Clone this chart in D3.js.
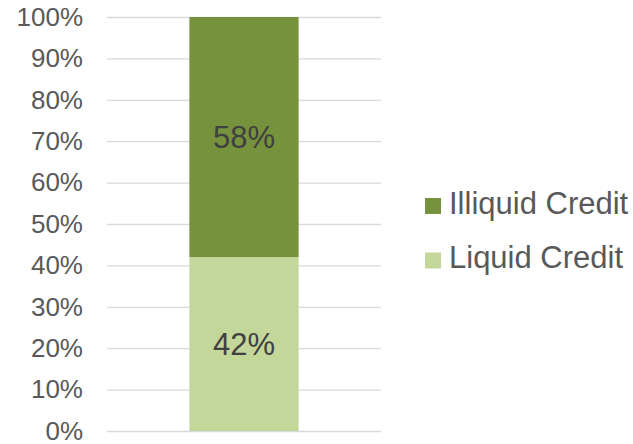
<!DOCTYPE html>
<html>
<head>
<meta charset="utf-8">
<script src="https://cdn.jsdelivr.net/npm/d3@7"></script>
<style>
  html, body { margin: 0; padding: 0; background: #fff; }
  svg { display: block; font-family: "Liberation Sans", Arial, sans-serif; }
</style>
</head>
<body>
<svg id="chart" width="633" height="444"></svg>
<script>
// ── data ──
var categories = ['Credit'];
var seriesNames = ['Liquid Credit', 'Illiquid Credit'];
var liquidValues = [42];
var illiquidValues = [58];
var tickValues = [0, 10, 20, 30, 40, 50, 60, 70, 80, 90, 100];
var seriesColors = ['#c4d79b', '#77923c'];

(function () {
  'use strict';

  var svg = d3.select('#chart');
  var margin = { top: 17, right: 252, bottom: 13, left: 107 };
  var W = 633, H = 444;
  var plotW = W - margin.left - margin.right;
  var plotH = H - margin.top - margin.bottom;

  var rows = categories.map(function (c, i) {
    return { cat: c, 'Liquid Credit': liquidValues[i], 'Illiquid Credit': illiquidValues[i] };
  });
  var stacked = d3.stack().keys(seriesNames)(rows);

  var x = d3.scaleBand().domain(categories).range([0, plotW])
    .paddingInner(0.43).paddingOuter(0.43);
  var y = d3.scaleLinear().domain([0, 100]).range([plotH, 0]);
  var color = d3.scaleOrdinal().domain(seriesNames).range(seriesColors);

  var g = svg.append('g').attr('transform', 'translate(' + margin.left + ',' + margin.top + ')');

  // gridlines + tick labels
  var axis = g.append('g')
    .call(d3.axisLeft(y).tickValues(tickValues).tickSize(-plotW).tickPadding(24)
      .tickFormat(function (d) { return d + '%'; }));
  axis.select('.domain').remove();
  axis.selectAll('.tick line').attr('stroke', '#d9d9d9').attr('stroke-width', 1.3);
  axis.selectAll('.tick text').attr('fill', '#595959').style('font-size', '26px')
    .style('font-family', '"Liberation Sans", Arial, sans-serif');

  // bars
  var layer = g.selectAll('.layer').data(stacked).join('g')
    .attr('class', 'layer').attr('fill', function (d) { return color(d.key); });
  layer.selectAll('rect').data(function (d) { return d; }).join('rect')
    .attr('x', function (d) { return x(d.data.cat); })
    .attr('width', x.bandwidth())
    .attr('y', function (d) { return y(d[1]); })
    .attr('height', function (d) { return y(d[0]) - y(d[1]); });

  // data labels
  layer.selectAll('text').data(function (d) { return d; }).join('text')
    .attr('x', function (d) { return x(d.data.cat) + x.bandwidth() / 2; })
    .attr('y', function (d) { return (y(d[0]) + y(d[1])) / 2 + 11; })
    .attr('text-anchor', 'middle')
    .attr('fill', '#404040')
    .style('font-size', '31px')
    .text(function (d) { return (d[1] - d[0]) + '%'; });

  // legend (top series first)
  var legendItems = seriesNames.slice().reverse();
  var legend = svg.append('g').attr('transform', 'translate(425,198)');
  var item = legend.selectAll('g').data(legendItems).join('g')
    .attr('transform', function (d, i) { return 'translate(0,' + (i * 54.5) + ')'; });
  item.append('rect').attr('width', 16).attr('height', 16)
    .attr('fill', function (d) { return color(d); });
  item.append('text').attr('x', 24).attr('y', 15.5)
    .attr('fill', '#595959').style('font-size', '31px')
    .text(function (d) { return d; });
})();
</script>
</body>
</html>
